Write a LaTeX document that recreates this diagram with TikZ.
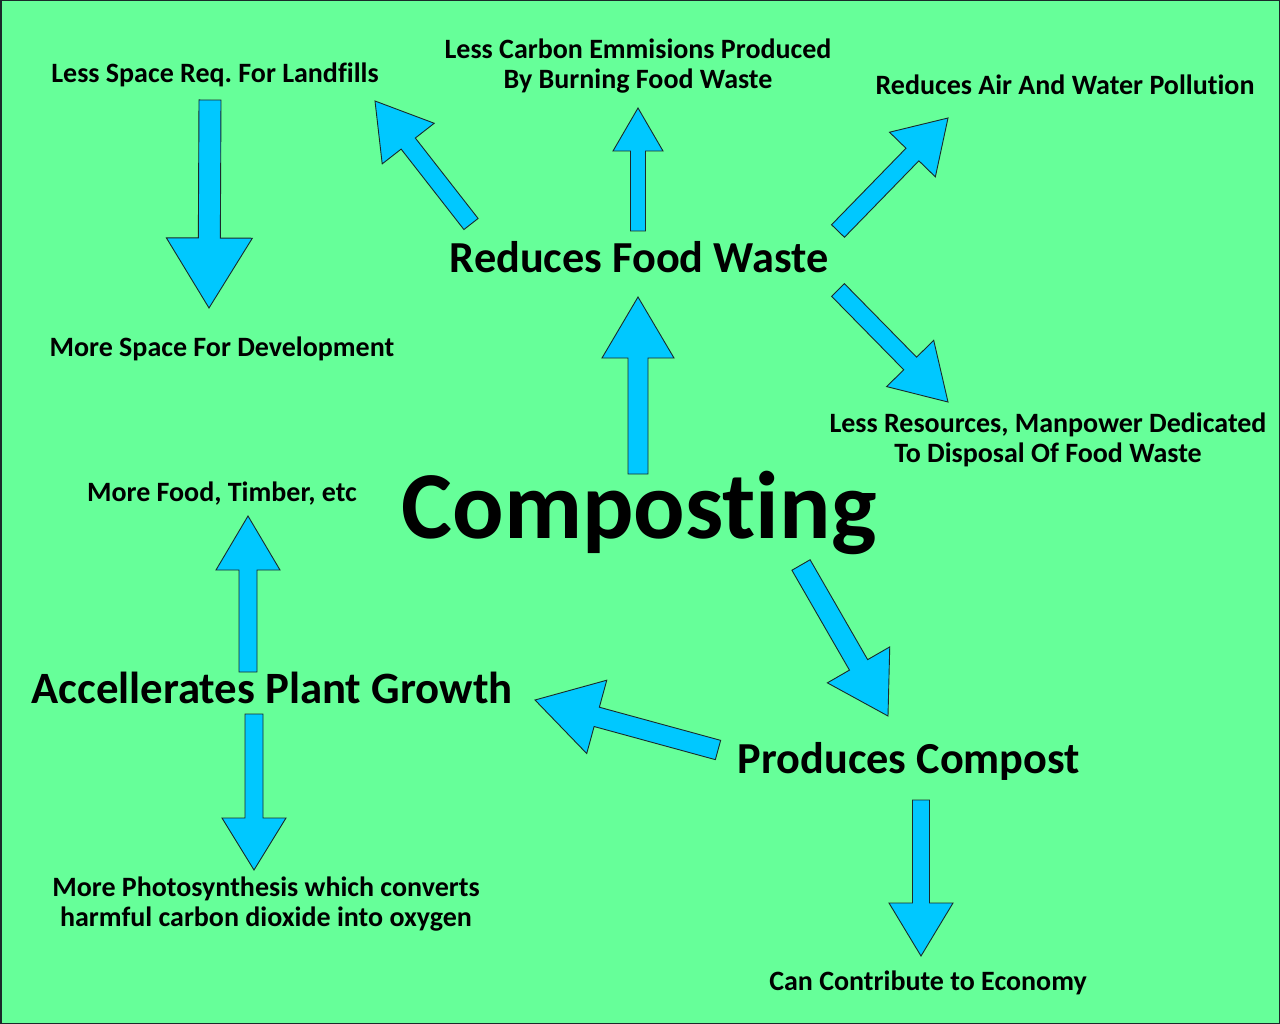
\documentclass[tikz,border=0pt]{standalone}
\usepackage{fontspec}
\setmainfont{Carlito}[Ligatures=NoCommon]
\usepackage{tikz}
\usetikzlibrary{calc}
\definecolor{CompGreen}{HTML}{66FF99}
\definecolor{CompBlue}{HTML}{00C8FF}
\definecolor{CompDark}{HTML}{1A2A2A}
\tikzset{
  smalltext/.style={font=\bfseries\fontsize{28}{30}\selectfont,align=center,inner sep=0pt,anchor=base},
  midtext/.style={font=\bfseries\fontsize{44.3}{50}\selectfont,align=center,inner sep=0pt,anchor=base},
  bigtext/.style={font=\bfseries\fontsize{96}{110}\selectfont,inner sep=0pt,anchor=base},
  fatarrow/.style={fill=CompBlue,draw=CompDark,line width=0.9pt,line join=miter}
}
% block arrow: tail, tip, half shaft width, head length, head half width
\newcommand{\fatarrow}[5]{%
  \coordinate (hb) at ($(#2)!#4!(#1)$);
  \draw[fatarrow] ($(#1)!#3!90:(#2)$) -- ($(hb)!#3!90:(#2)$) -- ($(hb)!#5!90:(#2)$)
    -- (#2) -- ($(hb)!#5!-90:(#2)$) -- ($(hb)!#3!-90:(#2)$) -- ($(#1)!#3!-90:(#2)$) -- cycle;}

\begin{document}
\begin{tikzpicture}[x=1pt,y=-1pt]
\useasboundingbox (0,0) rectangle (1280,1024);
\draw[fill=CompGreen,draw=CompDark,line width=1.5pt] (0.75,0.75) rectangle (1279.25,1023.25);

% labels
\node[smalltext] (landfill) at (215,83) {Less Space Req.\ For Landfills};
\node[smalltext] (carbon) at (638,89) {Less Carbon Emmisions Produced\\By Burning Food Waste};
\node[smalltext] (air) at (1065,95) {Reduces Air And Water Pollution};
\node[midtext] (foodwaste) at (639,273) {Reduces Food Waste};
\node[smalltext] (space) at (222,356) {More Space For Development};
\node[smalltext] (resources) at (1048,462) {Less Resources, Manpower Dedicated\\To Disposal Of Food Waste};
\node[bigtext] (compost) at (639,538) {Composting};
\node[smalltext] (timber) at (222,501) {More Food, Timber, etc};
\node[midtext,font=\bfseries\fontsize{44.8}{50}\selectfont] (plant) at (272,703) {Accellerates Plant Growth};
\node[midtext] (produce) at (909,773) {Produces Compost};
\node[smalltext] (photo) at (266,926) {More Photosynthesis which converts\\harmful carbon dioxide into oxygen};
\node[smalltext] (economy) at (928,990) {Can Contribute to Economy};

% arrow ends
\coordinate (landfill-t) at (210,100);  \coordinate (space-h) at (209,308);
\coordinate (waste-nw) at (471,224);    \coordinate (landfill-h) at (375,101);
\coordinate (waste-n) at (638,231);     \coordinate (carbon-h) at (638,108);
\coordinate (waste-ne) at (838,231);    \coordinate (air-h) at (948,118);
\coordinate (waste-se) at (838,290);    \coordinate (resources-h) at (948,402);
\coordinate (compost-n) at (638,474);   \coordinate (foodwaste-h) at (638,297);
\coordinate (compost-se) at (801,565);  \coordinate (produce-h) at (888,716);
\coordinate (produce-w) at (718,750);   \coordinate (plant-h) at (535,700);
\coordinate (plant-n) at (248,672);     \coordinate (timber-h) at (248,516);
\coordinate (plant-s) at (254,714);     \coordinate (photo-h) at (254,870);
\coordinate (produce-s) at (921,800);   \coordinate (economy-h) at (921,956);

\fatarrow{landfill-t}{space-h}{11pt}{70pt}{43pt}
\fatarrow{waste-nw}{landfill-h}{9pt}{54pt}{33pt}
\fatarrow{waste-n}{carbon-h}{7.5pt}{43pt}{25pt}
\fatarrow{waste-ne}{air-h}{9pt}{51pt}{32pt}
\fatarrow{waste-se}{resources-h}{9pt}{54pt}{33pt}
\fatarrow{compost-n}{foodwaste-h}{10pt}{61pt}{36pt}
\fatarrow{compost-se}{produce-h}{10.5pt}{59pt}{36pt}
\fatarrow{produce-w}{plant-h}{10pt}{64pt}{38pt}
\fatarrow{plant-n}{timber-h}{9pt}{54pt}{32pt}
\fatarrow{plant-s}{photo-h}{9pt}{52pt}{32pt}
\fatarrow{produce-s}{economy-h}{8.5pt}{53pt}{32pt}
\end{tikzpicture}
\end{document}
